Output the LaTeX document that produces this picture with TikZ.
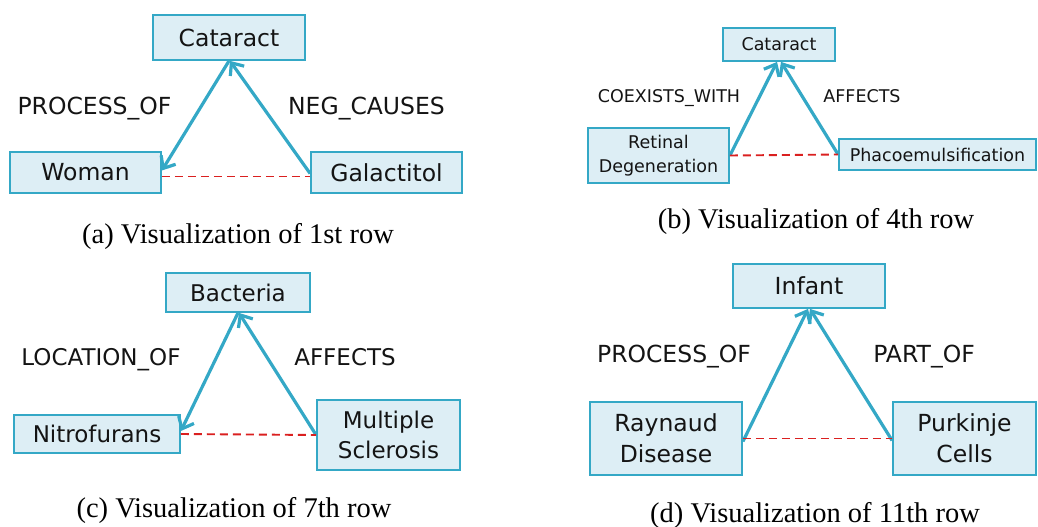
\documentclass[tikz,border=0pt]{standalone}
\usepackage{fontspec}
\setmainfont{Liberation Serif}
\newfontfamily\boxfont{DejaVu Sans}
\usepackage{xcolor}
\usepackage{tikz}
\usetikzlibrary{positioning,arrows.meta}

\definecolor{linkblue}{RGB}{52,168,198}
\definecolor{boxfill}{RGB}{221,238,245}
\definecolor{pairred}{RGB}{218,32,32}

\begin{document}
\begin{tikzpicture}[
      x=1pt, y=-1pt,
      entity/.style   = {rectangle, draw=linkblue, fill=boxfill,
                         line width=1.8pt, inner sep=0pt, align=center,
                         text=black!92},
      bigtxt/.style   = {font=\boxfont\fontsize{23.5}{31}\selectfont},
      midtxt/.style   = {font=\boxfont\fontsize{23}{30}\selectfont},
      smalltxt/.style = {font=\boxfont\fontsize{17.5}{24}\selectfont},
      rel/.style      = {anchor=base, text=black!92},
      link/.style     = {-{Straight Barb[length=10pt,width=17pt]},
                         line width=3.2pt, draw=linkblue},
      pair/.style     = {draw=pairred, line width=1.9pt,
                         dash pattern=on 8pt off 5pt},
      caption/.style  = {anchor=base, font=\fontsize{28.5}{34}\selectfont}
    ]
    \useasboundingbox (0,0) rectangle (1038,527);

    % (a) 1st row
    \node[entity, bigtxt, minimum width=152pt, minimum height=45pt]
          (cat1) at (229,37.5)  {Cataract};
    \node[entity, bigtxt, minimum width=151pt, minimum height=41pt]
          (wom)  at (85.5,172.5) {Woman};
    \node[entity, bigtxt, minimum width=151pt, minimum height=41pt]
          (gal)  at (386.5,172.5) {Galactitol};
    \node[rel, bigtxt] (relA1) at (94.5,114)  {PROCESS\_OF};
    \node[rel, bigtxt] (relA2) at (366.5,114) {NEG\_CAUSES};
    \draw[link] (cat1.south) -- ([yshift=2pt]wom.east);
    \draw[link] ([yshift=-1pt]gal.west) -- ([xshift=1pt]cat1.south);
    \draw[pair] ([yshift=-4pt]wom.east) -- ([yshift=-4pt]gal.west);
    \node[caption] (capA) at (238,243) {(a) Visualization of 1st row};

    % (b) 4th row
    \node[entity, smalltxt, minimum width=112pt, minimum height=33pt]
          (cat2) at (779,44.5)  {Cataract};
    \node[entity, smalltxt, minimum width=141pt, minimum height=55pt]
          (ret)  at (658.5,155.5) {Retinal\\Degeneration};
    \node[entity, smalltxt, minimum width=197pt, minimum height=31pt]
          (pha)  at (937.5,154.5) {Phacoemulsification};
    \node[rel, smalltxt] (relB1) at (669,102) {COEXISTS\_WITH};
    \node[rel, smalltxt] (relB2) at (862,102) {AFFECTS};
    \draw[link] (ret.east) -- ([xshift=-2pt]cat2.south);
    \draw[link] (pha.west) -- ([xshift=2pt]cat2.south);
    \draw[pair] (ret.east) -- (pha.west);
    \node[caption] (capB) at (816,228) {(b) Visualization of 4th row};

    % (c) 7th row
    \node[entity, midtxt, minimum width=144pt, minimum height=39pt]
          (bac)  at (238,292.5) {Bacteria};
    \node[entity, midtxt, minimum width=166pt, minimum height=38pt]
          (nit)  at (97,434)    {Nitrofurans};
    \node[entity, midtxt, minimum width=143pt, minimum height=70pt]
          (msc)  at (388.5,435) {Multiple\\Sclerosis};
    \node[rel, midtxt] (relC1) at (101,365) {LOCATION\_OF};
    \node[rel, midtxt] (relC2) at (345,365) {AFFECTS};
    \draw[link] (bac.south) -- ([yshift=3pt]nit.east);
    \draw[link] (msc.west) -- ([xshift=1pt]bac.south);
    \draw[pair] (nit.east) -- (msc.west);
    \node[caption] (capC) at (234,517) {(c) Visualization of 7th row};

    % (d) 11th row
    \node[entity, bigtxt, minimum width=152pt, minimum height=44pt]
          (inf)  at (809,286)   {Infant};
    \node[entity, bigtxt, minimum width=152pt, minimum height=73pt]
          (ray)  at (666,438.5) {Raynaud\\Disease};
    \node[entity, bigtxt, minimum width=143pt, minimum height=73pt]
          (pur)  at (964.5,438.5) {Purkinje\\Cells};
    \node[rel, bigtxt] (relD1) at (674,362) {PROCESS\_OF};
    \node[rel, bigtxt] (relD2) at (924,362) {PART\_OF};
    \draw[link] ([yshift=-3pt]ray.east) -- ([xshift=-1pt]inf.south);
    \draw[link] ([yshift=-2pt]pur.west) -- ([xshift=1pt]inf.south);
    \draw[pair] (ray.east) -- (pur.west);
    \node[caption] (capD) at (815,522) {(d) Visualization of 11th row};
  \end{tikzpicture}
\end{document}
